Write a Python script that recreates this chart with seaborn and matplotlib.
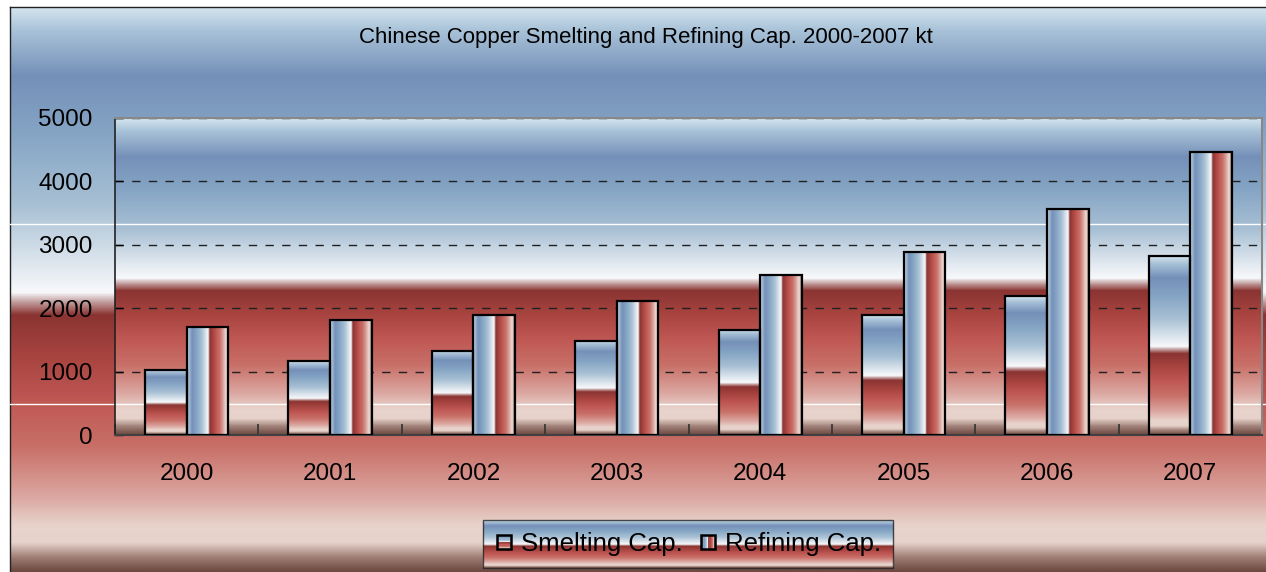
import numpy as np
import pandas as pd
import matplotlib
matplotlib.use("Agg")
import matplotlib.pyplot as plt
import seaborn as sns
from matplotlib.colors import LinearSegmentedColormap
from matplotlib.patches import Rectangle
from matplotlib.legend_handler import HandlerBase

years = ["2000", "2001", "2002", "2003", "2004", "2005", "2006", "2007"]
smelting = [1030, 1160, 1330, 1490, 1660, 1890, 2190, 2820]
refining = [1700, 1820, 1890, 2120, 2530, 2890, 3560, 4460]
series = ["Smelting Cap.", "Refining Cap."]
title = "Chinese Copper Smelting and Refining Cap. 2000-2007 kt"

df = pd.DataFrame({
    "year": years * 2,
    "cap": smelting + refining,
    "series": [series[0]] * len(years) + [series[1]] * len(years),
})

# "fire & ice" style gradient used everywhere in the original
stops = [
    (0.00, "#d4e4ee"), (0.04, "#a8c2d8"), (0.12, "#7590b8"), (0.22, "#84a4c4"),
    (0.35, "#a8c0d4"), (0.505, "#f8f9fb"), (0.52, "#c8a8a8"), (0.545, "#8a3432"),
    (0.62, "#a84440"), (0.70, "#c05854"), (0.78, "#c87068"), (0.87, "#dca8a2"),
    (0.92, "#e8d4cc"), (0.95, "#e6d2ca"), (0.975, "#a08078"), (1.00, "#6e4a42"),
]
cmap = LinearSegmentedColormap.from_list("fireice", stops)
vgrad = np.linspace(0, 1, 256).reshape(-1, 1)
hgrad = np.linspace(0, 1, 256).reshape(1, -1)

plt.rcParams["font.family"] = ["Liberation Sans", "DejaVu Sans"]

fig = plt.figure(figsize=(12.66, 5.72), dpi=100, facecolor="white")

# figure background
bg = fig.add_axes([10 / 1266, 0, 1256 / 1266, 565 / 572], zorder=-2)
bg.imshow(vgrad, cmap=cmap, aspect="auto", extent=[0, 1, 0, 1])
bg.set_xticks([])
bg.set_yticks([])
for s in ["right", "bottom"]:
    bg.spines[s].set_visible(False)
for s in ["left", "top"]:
    bg.spines[s].set_color("#222222")
    bg.spines[s].set_linewidth(1)

pos = [115 / 1266, 1 - 435 / 572, (1262 - 115) / 1266, (435 - 118) / 572]
pbg = fig.add_axes(pos, zorder=-1)
pbg.imshow(vgrad, cmap=cmap, aspect="auto", extent=[0, 1, 0, 1])
pbg.axis("off")

ax = fig.add_axes(pos, zorder=0)
ax.patch.set_visible(False)

sns.barplot(data=df, x="year", y="cap", hue="series", width=0.58,
            palette=["#a0b8d0", "#c05854"], edgecolor="black", linewidth=1.6,
            legend=False, ax=ax)

for i, cont in enumerate(ax.containers):
    for p in cont.patches:
        x, y = p.get_x(), p.get_y()
        w, h = p.get_width(), p.get_height()
        img = vgrad if i == 0 else hgrad
        ax.imshow(img, cmap=cmap, aspect="auto", extent=[x, x + w, y, y + h],
                  zorder=2, interpolation="bilinear")
        p.set_facecolor("none")
        p.set_zorder(3)

ax.set_xlim(-0.5, len(years) - 0.5)
ax.set_ylim(0, 5000)
ax.set_yticks([0, 1000, 2000, 3000, 4000, 5000])
ax.set_xlabel("")
ax.set_ylabel("")

ax.set_axisbelow(True)
ax.yaxis.grid(True, linestyle=(0, (6, 6)), color="#202020", linewidth=1)
ax.xaxis.grid(False)

ax.set_xticks(np.arange(len(years)))
ax.set_xticklabels(years)
ax.set_xticks(np.arange(len(years) + 1) - 0.5, minor=True)
ax.tick_params(axis="x", which="major", length=0, pad=20, labelsize=17.5)
ax.tick_params(axis="x", which="minor", direction="in", length=8, width=1.2,
               color="#333333")
ax.tick_params(axis="y", direction="in", length=6, width=1, pad=16,
               labelsize=17.5)

ax.spines["left"].set_color("#222222")
ax.spines["left"].set_linewidth(1.2)
ax.spines["bottom"].set_color("#404040")
ax.spines["bottom"].set_linewidth(1.5)
for s in ["top", "right"]:
    ax.spines[s].set_color("#888888")
    ax.spines[s].set_linewidth(1.5)

# thin white streaks across the whole image
for yy in [224, 404]:
    ax.plot([10 / 1266, 1], [1 - yy / 572] * 2, transform=fig.transFigure,
            color="white", linewidth=1, clip_on=False, zorder=1)

fig.text(646 / 1266, 1 - 38 / 572, title, ha="center", va="center",
         fontsize=16)


class GradHandler(HandlerBase):
    def __init__(self, vertical):
        super().__init__()
        self.vertical = vertical

    def create_artists(self, legend, orig_handle, xdescent, ydescent,
                       width, height, fontsize, trans):
        size = height * 0.8
        x0 = -xdescent + (width - size) / 2
        y0 = -ydescent + (height - size) / 2
        n = 12
        arts = []
        for k in range(n):
            c = cmap((k + 0.5) / n)
            if self.vertical:
                r = Rectangle((x0, y0 + size - (k + 1) * size / n), size,
                              size / n, facecolor=c, edgecolor="none",
                              transform=trans)
            else:
                r = Rectangle((x0 + k * size / n, y0), size / n, size,
                              facecolor=c, edgecolor="none", transform=trans)
            arts.append(r)
        arts.append(Rectangle((x0, y0), size, size, facecolor="none",
                              edgecolor="black", linewidth=1.8,
                              transform=trans))
        return arts


h1 = Rectangle((0, 0), 1, 1)
h2 = Rectangle((0, 0), 1, 1)
leg = fig.legend([h1, h2], series, loc="center",
                 bbox_to_anchor=(688 / 1266, 1 - 544 / 572), ncol=2,
                 fontsize=18.5, frameon=True, fancybox=False,
                 handler_map={h1: GradHandler(True), h2: GradHandler(False)},
                 handlelength=0.75, handletextpad=0.3, columnspacing=0.6,
                 borderpad=0.45, borderaxespad=0)
leg.get_frame().set_facecolor("none")
leg.get_frame().set_edgecolor("#222222")
leg.get_frame().set_linewidth(1)

fig.canvas.draw()
bb = leg.get_window_extent().transformed(fig.transFigure.inverted())
lbg = fig.add_axes([bb.x0, bb.y0, bb.width, bb.height], zorder=1)
lbg.imshow(vgrad, cmap=cmap, aspect="auto", extent=[0, 1, 0, 1])
lbg.axis("off")

fig.savefig("out.png", dpi=100, facecolor="white")
